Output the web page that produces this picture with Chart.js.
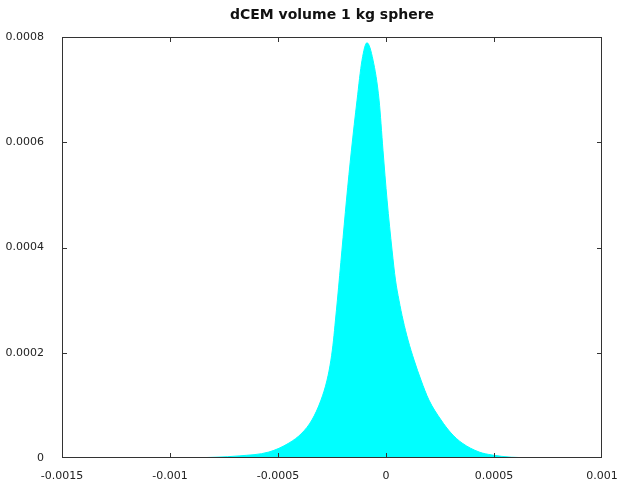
<!DOCTYPE html>
<html>
<head>
<meta charset="utf-8">
<script src="https://cdn.jsdelivr.net/npm/chart.js"></script>
<style>
  html, body { margin: 0; padding: 0; background: #fff; }
  #wrap { width: 623px; height: 483px; }
</style>
</head>
<body>
<div id="wrap"><canvas id="myChart"></canvas></div>
<script>
// dCEM volume distribution
const xValues = [
  -0.0015, -0.001, -0.0009, -0.000787, -0.00068, -0.000542, -0.000449, -0.000389,
  -0.000343, -0.000301, -0.000273, -0.000255, -0.000243, -0.000234, -0.000225,
  -0.000204, -0.000183, -0.00016, -0.000134, -0.000111, -0.000088,
  -0.00006, -0.000032, -0.000014, 0.000005, 0.000028, 0.000044, 0.00006,
  0.000079, 0.000102, 0.00013, 0.000162, 0.000199, 0.000255, 0.000301,
  0.000352, 0.000431, 0.000491, 0.00058, 0.0007, 0.001
];
const yValues = [
  0, 0, 0.0000003, 0.0000015, 0.000004, 0.0000114, 0.0000285, 0.0000475,
  0.0000722, 0.00011, 0.000148, 0.000186, 0.000224, 0.000262, 0.0003,
  0.000395, 0.00049, 0.000585, 0.00068, 0.000756, 0.000789,
  0.000756, 0.00068, 0.000585, 0.00049, 0.000395, 0.000338, 0.0003,
  0.000262, 0.000224, 0.000186, 0.000148, 0.00011, 0.0000722, 0.0000475,
  0.0000285, 0.0000114, 0.0000057, 0.0000015, 0.0000003, 0
];
const xTicks = [-0.0015, -0.001, -0.0005, 0, 0.0005, 0.001];
const yTicks = [0, 0.0002, 0.0004, 0.0006, 0.0008];

const points = xValues.map((x, i) => ({ x: x, y: yValues[i] }));

// gnuplot-like frame with inward tick marks
const framePlugin = {
  id: 'frame',
  afterDraw(chart) {
    const { ctx, chartArea: a, scales } = chart;
    ctx.save();
    ctx.strokeStyle = '#333';
    ctx.lineWidth = 1;
    ctx.strokeRect(a.left + 0.5, a.top + 0.5, a.right - a.left - 1, a.bottom - a.top - 1);
    ctx.beginPath();
    scales.x.ticks.forEach(t => {
      const px = Math.round(scales.x.getPixelForValue(t.value)) + 0.5;
      if (px <= a.left + 1 || px >= a.right - 1) return;
      ctx.moveTo(px, a.bottom); ctx.lineTo(px, a.bottom - 5);
      ctx.moveTo(px, a.top); ctx.lineTo(px, a.top + 5);
    });
    scales.y.ticks.forEach(t => {
      const py = Math.round(scales.y.getPixelForValue(t.value)) + 0.5;
      if (py <= a.top + 1 || py >= a.bottom - 1) return;
      ctx.moveTo(a.left, py); ctx.lineTo(a.left + 5, py);
      ctx.moveTo(a.right, py); ctx.lineTo(a.right - 5, py);
    });
    ctx.stroke();
    ctx.restore();
  }
};

const data = {
  datasets: [{
    label: 'dCEM volume',
    data: points,
    fill: 'origin',
    backgroundColor: '#00ffff',
    borderColor: '#00ffff',
    borderWidth: 1,
    pointRadius: 0,
    cubicInterpolationMode: 'monotone'
  }]
};

const config = {
  type: 'line',
  data,
  plugins: [framePlugin],
  options: {
    responsive: true,
    maintainAspectRatio: false,
    animation: false,
    layout: { padding: { left: 0, right: 21, top: 0, bottom: 0 } },
    plugins: {
      legend: { display: false },
      tooltip: { enabled: false },
      title: {
        display: true,
        fullSize: false,
        text: 'dCEM volume 1 kg sphere',
        color: '#111',
        font: { family: 'DejaVu Sans', size: 14, weight: 'bold' },
        padding: { top: 7, bottom: 13.2 }
      }
    },
    scales: {
      x: {
        type: 'linear',
        min: -0.0015,
        max: 0.001,
        afterBuildTicks: s => { s.ticks = xTicks.map(v => ({ value: v })); },
        afterFit: s => { s.height = 25; },
        grid: { display: false },
        border: { display: false },
        ticks: {
          padding: 4,
          maxRotation: 0,
          color: '#222',
          font: { family: 'DejaVu Sans', size: 11 },
          callback: v => String(v)
        }
      },
      y: {
        min: 0,
        max: 0.0008,
        afterBuildTicks: s => { s.ticks = yTicks.map(v => ({ value: v })); },
        afterFit: s => { s.width = 62; },
        grid: { display: false },
        border: { display: false },
        ticks: {
          padding: 10,
          color: '#222',
          font: { family: 'DejaVu Sans', size: 11 },
          callback: v => String(v)
        }
      }
    }
  }
};

const myChart = new Chart(document.getElementById('myChart'), config);
</script>
</body>
</html>
